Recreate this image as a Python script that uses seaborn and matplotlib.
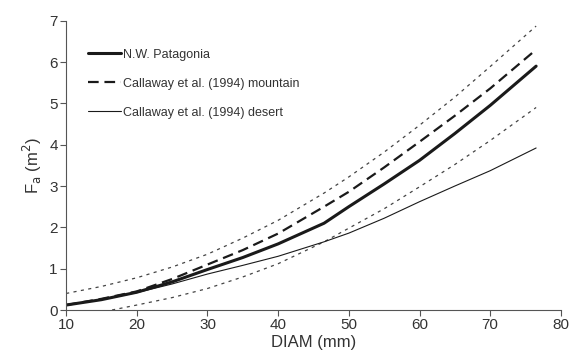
import numpy as np
import pandas as pd
import matplotlib
matplotlib.use("Agg")
import matplotlib.pyplot as plt
import seaborn as sns

# Stem diameter (mm) at which each curve is evaluated
diam = [10, 15, 20, 25, 30, 35, 40, 46.5, 50, 55, 60, 65, 70, 76.5]

# Fitted crown/foliage area Fa (m2)
patagonia = [0.12, 0.25, 0.43, 0.68, 0.98, 1.27, 1.60, 2.10, 2.50, 3.05, 3.62, 4.27, 4.95, 5.90]
mountain = [0.12, 0.27, 0.45, 0.75, 1.10, 1.45, 1.85, 2.50, 2.86, 3.45, 4.07, 4.70, 5.36, 6.30]
desert = [0.12, 0.25, 0.42, 0.63, 0.87, 1.08, 1.30, 1.65, 1.86, 2.22, 2.62, 3.00, 3.37, 3.92]

# Confidence band of the Patagonia fit
upper_ci = [0.40, 0.57, 0.78, 1.04, 1.35, 1.74, 2.17, 2.83, 3.22, 3.82, 4.47, 5.15, 5.89, 6.87]
lower_diam = [16.5, 20, 25, 30, 35, 40, 46.5, 50, 55, 60, 65, 70, 76.5]
lower_ci = [0.00, 0.12, 0.30, 0.52, 0.80, 1.12, 1.65, 1.98, 2.45, 2.98, 3.52, 4.10, 4.90]

labels = ["N.W. Patagonia", "Callaway et al. (1994) mountain", "Callaway et al. (1994) desert"]

sns.set_theme(style="ticks")
plt.rcParams["font.family"] = ["Liberation Sans", "DejaVu Sans"]

fig = plt.figure(figsize=(5.8, 3.63), dpi=100)
ax = fig.add_axes([0.114, 0.146, 0.853, 0.797])

ink = "#1a1a1a"
txt = "#333333"

main = pd.DataFrame({"DIAM": diam, "Patagonia": patagonia, "Mountain": mountain, "Desert": desert})
up = pd.DataFrame({"DIAM": diam, "Fa": upper_ci})
lo = pd.DataFrame({"DIAM": lower_diam, "Fa": lower_ci})

sns.lineplot(data=up, x="DIAM", y="Fa", ax=ax, color="#444444", lw=0.9,
             linestyle=(0, (2.5, 3.5)))
sns.lineplot(data=lo, x="DIAM", y="Fa", ax=ax, color="#444444", lw=0.9,
             linestyle=(0, (2.5, 3.5)))
sns.lineplot(data=main, x="DIAM", y="Desert", ax=ax, color=ink, lw=0.8, label=labels[2])
sns.lineplot(data=main, x="DIAM", y="Mountain", ax=ax, color=ink, lw=1.6,
             linestyle=(0, (4.8, 2.6)), label=labels[1])
sns.lineplot(data=main, x="DIAM", y="Patagonia", ax=ax, color=ink, lw=2.2, label=labels[0])

ax.set_xlim(10, 80)
ax.set_ylim(0, 7)
ax.set_xticks(range(10, 81, 10))
ax.set_yticks(range(0, 8))
ax.set_xlabel("DIAM (mm)", fontsize=12, color=txt, labelpad=2)
ax.set_ylabel(r"F$_\mathrm{a}$ (m$^2$)", fontsize=12, color=txt, labelpad=4)
ax.tick_params(axis="both", labelsize=11, colors="#555555", labelcolor=txt,
               direction="out", length=4, width=0.8, pad=2)
for side in ("left", "bottom"):
    ax.spines[side].set_color("#555555")
    ax.spines[side].set_linewidth(0.8)
sns.despine(ax=ax)

handles, labs = ax.get_legend_handles_labels()
order = [labs.index(l) for l in labels]
leg = ax.legend([handles[i] for i in order], [labs[i] for i in order],
                loc="upper left", bbox_to_anchor=(0.035, 0.92), frameon=False,
                fontsize=9, handlelength=2.6, handletextpad=0.15,
                labelspacing=1.35, borderaxespad=0)
for t in leg.get_texts():
    t.set_color(txt)

fig.savefig("out.png", dpi=100)
